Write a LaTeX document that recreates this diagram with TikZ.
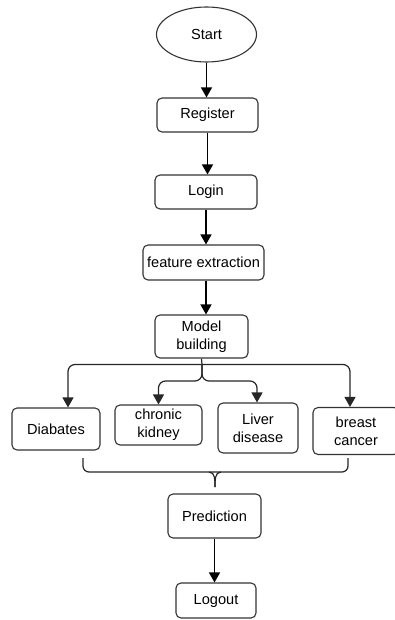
\documentclass[tikz,border=0pt]{standalone}
\usepackage{fontspec}
\setmainfont{Liberation Sans}
\usetikzlibrary{shapes.geometric,arrows.meta}
\begin{document}
\begin{tikzpicture}[x=1pt,y=-1pt,
  txt/.style={font=\fontsize{14.6}{18}\selectfont},
  box/.style={txt,draw=black!80,line width=1.1pt,rounded corners=5pt,align=center,inner sep=0pt},
  arr/.style={draw=black,line width=1.4pt,-{Triangle[length=10pt,width=11pt]}},
  ln/.style={draw=black!85,line width=1.2pt,rounded corners=7pt}]
\useasboundingbox (0,0) rectangle (395,620);
\node[ellipse,draw=black!80,line width=1.1pt,minimum width=100pt,minimum height=55pt,inner sep=0pt,txt] (start) at (206.5,34.5) {Start};
\node[box,minimum width=101pt,minimum height=34pt] (register) at (207.5,115) {Register};
\node[box,minimum width=102pt,minimum height=34pt] (login) at (206,192) {Login};
\node[box,minimum width=121pt,minimum height=35pt] (feature) at (203.5,262.5) {feature extraction};
\node[box,minimum width=93pt,minimum height=43pt] (model) at (201.5,336.5) {Model\\building};
\node[box,minimum width=88pt,minimum height=42pt] (diab) at (56,429) {Diabates};
\node[box,minimum width=87pt,minimum height=40pt] (ckd) at (158.5,425) {chronic\\kidney};
\node[box,minimum width=80pt,minimum height=50pt] (liver) at (258,428) {Liver\\disease};
\node[box,minimum width=86pt,minimum height=47pt] (breast) at (356,431) {breast\\cancer};
\node[box,minimum width=93pt,minimum height=44pt] (pred) at (214.5,516) {Prediction};
\node[box,minimum width=80pt,minimum height=35pt] (logout) at (216,600.5) {Logout};
% main flow
\draw[arr] (start.south) -- (start.south |- register.north);
\draw[arr] (register.south) -- (register.south |- login.north);
\draw[arr] (login.south) -- (login.south |- feature.north);
\draw[arr] ([xshift=2.5pt]feature.south) -- ([xshift=2.5pt]feature.south |- model.north);
% branches
\coordinate (j) at (202,364.5);
\coordinate (k) at (202,381);
\draw[ln] (model.south) -- (j);
\draw[arr,ln] (j) -| ([xshift=12pt]diab.north);
\draw[arr,ln] (j) -| ([xshift=-6pt]breast.north);
\draw[arr,ln] (j) -- (k) -| (ckd.north);
\draw[arr,ln] (j) -- (k) -| ([xshift=-1pt]liver.north);
% brace
\coordinate (bl) at (83,458);
\coordinate (br) at (348,458);
\draw[ln,rounded corners=6pt] (bl) -- (bl |- 0,472) -- (br |- 0,472) -- (br);
\coordinate (cusp) at (215,482);
\draw[ln,rounded corners=0pt] (cusp |- 0,472) ++(-6,0) to[out=0,in=90] ([yshift=-5pt]cusp) -- (cusp);
\draw[ln,rounded corners=0pt] (cusp |- 0,472) ++(6,0) to[out=180,in=90] ([yshift=-5pt]cusp);
% final
\draw[arr] (pred.south) -- (pred.south |- logout.north);
\end{tikzpicture}
\end{document}
